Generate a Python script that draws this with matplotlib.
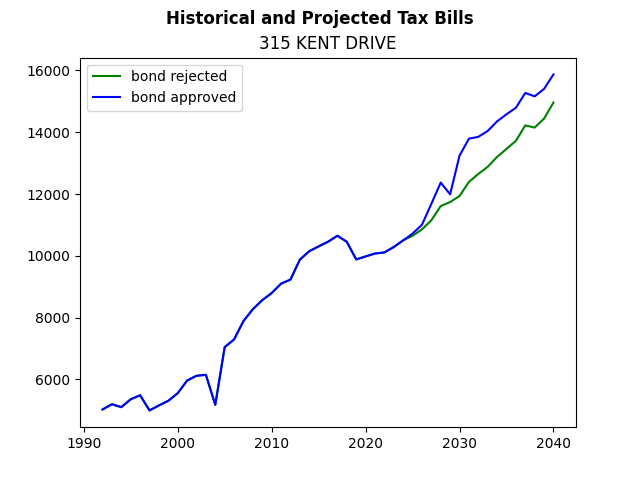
import numpy as np
import matplotlib.pyplot as plt

# ____________________________________________________________
# data

years = np.arange(1992, 2041)

history = [5030, 5200, 5105, 5360, 5490, 5000, 5160, 5310, 5555, 5965,
           6120, 6150, 5180, 7045, 7295, 7890, 8275, 8565, 8795, 9100,
           9230, 9875, 10150, 10305, 10455, 10650, 10455, 9885, 9980, 10075,
           10110, 10285, 10500]

rejected = [10650, 10855, 11150, 11610, 11740, 11935, 12390, 12650, 12880,
            13200, 13460, 13720, 14220, 14150, 14440, 14960]

approved = [10720, 11005, 11680, 12370, 11990, 13240, 13790, 13850, 14040,
            14350, 14580, 14790, 15270, 15160, 15400, 15870]

bond_rejected = history + rejected
bond_approved = history + approved


# ____________________________________________________________
# plot

fig, ax = plt.subplots(figsize=(6.4, 4.8), dpi=100)
fig.suptitle('Historical and Projected Tax Bills', fontweight='bold')
ax.set_title('315 KENT DRIVE')
ax.plot(years, bond_rejected, color='green', label='bond rejected')
ax.plot(years, bond_approved, color='blue', label='bond approved')
ax.legend(loc='upper left')
fig.savefig('out.png')
